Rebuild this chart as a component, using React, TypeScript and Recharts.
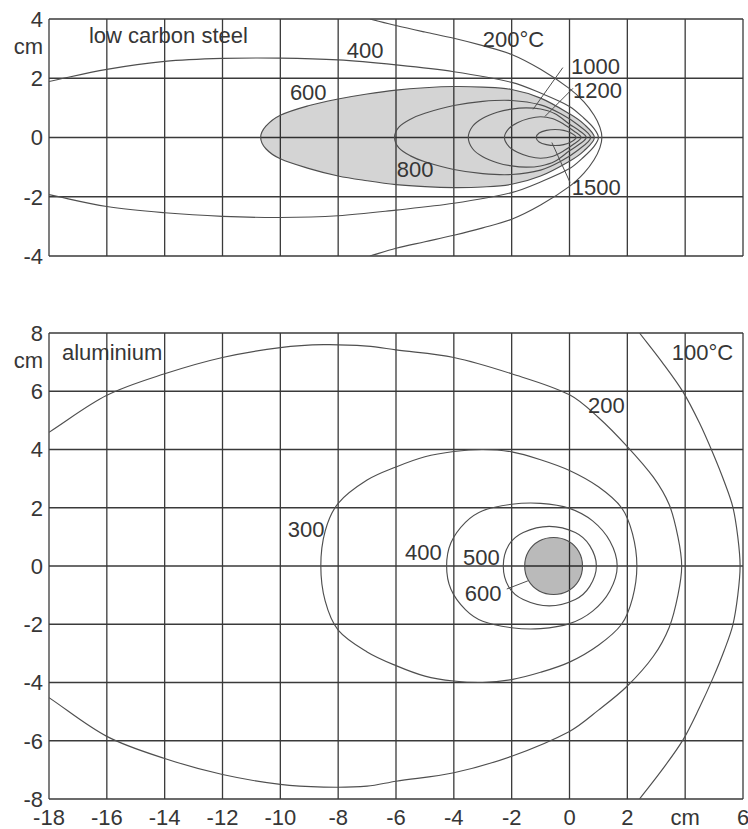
import {
  ComposedChart,
  Line,
  Area,
  Scatter,
  XAxis,
  YAxis,
  CartesianGrid,
} from 'recharts'

const ink = '#363636'
const gridStroke = '#3a3a3a'
const isoStroke = '#4f4f4f'
const fontFamily = '"Liberation Sans", Arial, Helvetica, sans-serif'
const fontSize = 22

// shared x stations (cm); the tick at 4 carries the unit
const xTicks = [-18, -16, -14, -12, -10, -8, -6, -4, -2, 0, 2, 4, 6]
const xUnitAt = 4

const steelYTicks = [-4, -2, 0, 2, 3, 4]
const steelYGrid = [-4, -2, 0, 2, 4]
const steelUnitAt = 3

const aluYTicks = [-8, -6, -4, -2, 0, 2, 4, 6, 7, 8]
const aluYGrid = [-8, -6, -4, -2, 0, 2, 4, 6, 8]
const aluUnitAt = 7

// low carbon steel isotherms: x stations, upper branch, lower branch (cm)
const steel200X = [-6.9, -6, -5, -4, -3, -2, -1, 0, 0.5, 0.85, 1.05, 1.12]
const steel200Top = [4.0, 3.78, 3.56, 3.35, 3.1, 2.8, 2.3, 1.65, 1.2, 0.75, 0.35, 0]
const steel200Bot = [-4.0, -3.74, -3.52, -3.3, -3.05, -2.76, -2.28, -1.65, -1.2, -0.75, -0.35, 0]

const steel400X = [-18, -16, -14, -12, -10, -8, -6, -4, -2, -1, 0, 0.5, 0.85, 1.0]
const steel400Top = [1.89, 2.3, 2.57, 2.67, 2.68, 2.62, 2.45, 2.22, 1.86, 1.5, 1.05, 0.65, 0.3, 0]
const steel400Bot = [-1.93, -2.33, -2.54, -2.66, -2.7, -2.64, -2.45, -2.22, -1.86, -1.5, -1.05, -0.65, -0.3, 0]

const steel600X = [-10.68, -10.5, -10, -9, -8, -7, -6, -5, -4, -3, -2, -1, 0, 0.5, 0.86]
const steel600Top = [0, 0.38, 0.75, 1.08, 1.3, 1.47, 1.6, 1.68, 1.72, 1.7, 1.62, 1.33, 0.8, 0.45, 0]
const steel600Bot = [0, -0.38, -0.72, -1.05, -1.3, -1.46, -1.59, -1.66, -1.69, -1.67, -1.58, -1.3, -0.8, -0.45, 0]

const steel800X = [-6.05, -5.9, -5.5, -5, -4, -3, -2, -1, -0.3, 0.3, 0.73]
const steel800Top = [0, 0.35, 0.62, 0.82, 1.08, 1.22, 1.25, 1.1, 0.8, 0.42, 0]
const steel800Bot = [0, -0.35, -0.62, -0.82, -1.08, -1.22, -1.25, -1.1, -0.8, -0.42, 0]

const steel1000X = [-3.5, -3.35, -3, -2.5, -2, -1.5, -1, -0.5, 0, 0.35, 0.58]
const steel1000Top = [0, 0.38, 0.65, 0.85, 0.96, 1.0, 0.96, 0.8, 0.45, 0.22, 0]
const steel1000Bot = [0, -0.38, -0.65, -0.85, -0.96, -1.0, -0.96, -0.8, -0.45, -0.22, 0]

const steel1200X = [-2.25, -2.1, -1.8, -1.4, -1, -0.6, -0.2, 0.15, 0.4]
const steel1200Top = [0, 0.3, 0.5, 0.64, 0.7, 0.64, 0.45, 0.22, 0]
const steel1200Bot = [0, -0.3, -0.5, -0.64, -0.7, -0.64, -0.45, -0.22, 0]

const steel1500X = [-1.15, -1.05, -0.8, -0.5, -0.2, 0.05, 0.23]
const steel1500Top = [0, 0.15, 0.24, 0.27, 0.24, 0.15, 0]
const steel1500Bot = [0, -0.15, -0.24, -0.27, -0.24, -0.15, 0]

// aluminium isotherms
const alu100X = [2.42, 3.2, 3.93, 4.5, 4.96, 5.35, 5.65, 5.82, 5.9]
const alu100Top = [8, 7, 5.97, 4.9, 3.87, 2.9, 2.02, 1.0, 0]
const alu100Bot = [-8, -7, -5.96, -4.85, -3.85, -2.9, -2.02, -1.0, 0]

const alu200X = [-18, -16, -14, -12, -10, -8.5, -7, -6, -4, -2, 0, 1, 2, 2.9, 3.45, 3.75, 3.88]
const alu200Top = [4.59, 5.86, 6.6, 7.16, 7.5, 7.6, 7.55, 7.42, 7.16, 6.6, 5.88, 5.1, 4.1, 3.05, 2.1, 1.0, 0]
const alu200Bot = [-4.52, -5.85, -6.61, -7.16, -7.5, -7.59, -7.56, -7.39, -7.1, -6.53, -5.68, -4.95, -4.12, -3.1, -2.1, -1.0, 0]

const alu300X = [-8.6, -8.45, -8, -7, -6, -5, -4, -3, -2, -1, 0, 1, 1.8, 2.18, 2.33]
const alu300Top = [0, 1.2, 2.15, 2.95, 3.4, 3.75, 3.93, 4.0, 3.92, 3.65, 3.28, 2.72, 2.0, 1.1, 0]
const alu300Bot = [0, -1.2, -2.2, -2.95, -3.42, -3.78, -3.95, -4.0, -3.9, -3.65, -3.3, -2.72, -2.0, -1.1, 0]

const alu400X = [-4.25, -4.1, -3.6, -3, -2, -1, 0, 0.8, 1.4, 1.65]
const alu400Top = [0, 0.8, 1.5, 1.9, 2.12, 2.15, 1.98, 1.55, 0.85, 0]
const alu400Bot = [0, -0.8, -1.5, -1.9, -2.12, -2.15, -1.98, -1.55, -0.85, 0]

const alu500X = [-2.29, -2.1, -1.6, -0.7, 0.2, 0.7, 0.93]
const alu500Top = [0, 0.72, 1.15, 1.36, 1.15, 0.7, 0]
const alu500Bot = [0, -0.72, -1.15, -1.37, -1.15, -0.7, 0]

const alu600X = [-1.55, -1.42, -1.05, -0.55, -0.05, 0.32, 0.45]
const alu600Top = [0, 0.5, 0.86, 0.98, 0.86, 0.5, 0]
const alu600Bot = [0, -0.5, -0.86, -0.98, -0.86, -0.5, 0]

// text placed at its left baseline, in cm
const steelTags = [
  { x: -16.62, y: 3.18, label: 'low carbon steel' },
  { x: -7.7, y: 2.7, label: '400' },
  { x: -9.67, y: 1.25, label: '600' },
  { x: -3.0, y: 3.04, label: '200°C' },
  { x: 0.05, y: 2.13, label: '1000' },
  { x: 0.12, y: 1.35, label: '1200' },
  { x: -5.97, y: -1.35, label: '800' },
  { x: 0.08, y: -1.93, label: '1500' },
]
const aluTags = [
  { x: -17.55, y: 7.09, label: 'aluminium' },
  { x: 3.54, y: 7.09, label: '100°C' },
  { x: 0.64, y: 5.27, label: '200' },
  { x: -9.74, y: 0.99, label: '300' },
  { x: -5.69, y: 0.21, label: '400' },
  { x: -3.68, y: 0.03, label: '500' },
  { x: -3.62, y: -1.2, label: '600' },
]

const steelLeaders = [
  [{ x: -1.26, y: 0.95 }, { x: -0.23, y: 2.36 }],
  [{ x: -0.85, y: 0.71 }, { x: 0.12, y: 1.66 }],
  [{ x: -0.61, y: -0.17 }, { x: 0.02, y: -1.52 }],
]
const aluLeaders = [[{ x: -2.17, y: -0.79 }, { x: -1.44, y: -0.51 }]]

type Pt = { x: number; y: number }

// walk the upper branch left to right, then the lower branch back
function outline(xs: number[], top: number[], bot: number[]): Pt[] {
  const upper = xs.map((x, i) => ({ x, y: top[i] }))
  const lower = xs.map((x, i) => ({ x, y: bot[i] })).reverse().slice(1)
  return [...upper, ...lower]
}

function band(xs: number[], top: number[], bot: number[]) {
  return xs.map((x, i) => ({ x, y: [bot[i], top[i]] }))
}

type XY = [number, number]
const gap = (a: XY, b: XY) => Math.hypot(a[0] - b[0], a[1] - b[1])

// chord-length Catmull-Rom through the points, closed when the ends meet
function traceSmooth(ctx: any, raw: XY[], closedHint: boolean) {
  const pts: XY[] = []
  raw.forEach((p) => {
    if (!pts.length || gap(p, pts[pts.length - 1]) > 0.01) pts.push(p)
  })
  if (pts.length < 2) return
  let closed = closedHint
  if (pts.length > 2 && gap(pts[0], pts[pts.length - 1]) < 0.5) {
    pts.pop()
    closed = true
  }
  const n = pts.length
  const at = (i: number) =>
    closed ? pts[((i % n) + n) % n] : pts[Math.min(Math.max(i, 0), n - 1)]
  const tangent = (i: number): XY => {
    const a = at(i - 1)
    const b = at(i)
    const c = at(i + 1)
    const s = gap(a, b) + gap(b, c) || 1
    return [(c[0] - a[0]) / s, (c[1] - a[1]) / s]
  }
  ctx.moveTo(pts[0][0], pts[0][1])
  const segs = closed ? n : n - 1
  for (let i = 0; i < segs; i++) {
    const p = at(i)
    const q = at(i + 1)
    const l = gap(p, q) / 3
    const t0 = tangent(i)
    const t1 = tangent(i + 1)
    ctx.bezierCurveTo(
      p[0] + t0[0] * l,
      p[1] + t0[1] * l,
      q[0] - t1[0] * l,
      q[1] - t1[1] * l,
      q[0],
      q[1],
    )
  }
  if (closed) ctx.closePath()
}

function smoothCurve(ctx: any) {
  let inArea = false
  let parts: XY[][] = []
  let cur: XY[] = []
  return {
    areaStart() {
      inArea = true
      parts = []
    },
    areaEnd() {
      traceSmooth(ctx, parts.flat() as XY[], true)
      inArea = false
    },
    lineStart() {
      cur = []
    },
    lineEnd() {
      if (inArea) parts.push(cur)
      else traceSmooth(ctx, cur, false)
    },
    point(x: number, y: number) {
      cur.push([+x, +y])
    },
  }
}

function TagText(props: any) {
  const { cx, cy, payload } = props
  return (
    <text x={cx} y={cy} fill={ink} fontSize={fontSize} fontFamily={fontFamily}>
      {payload.label}
    </text>
  )
}

function YTick({ x, y, payload, unitAt }: any) {
  const unit = payload.value === unitAt
  return (
    <text
      x={x}
      y={y}
      dy={unit ? '0.26em' : '0.355em'}
      textAnchor="end"
      fill={ink}
      fontSize={fontSize}
      fontFamily={fontFamily}
    >
      {unit ? 'cm' : payload.value}
    </text>
  )
}

// keeps the x ticks (and so the vertical grid) without drawing labels
const NoTick = () => <g />

type PanelProps = {
  height: number
  top: number
  yDomain: [number, number]
  yTicks: number[]
  yGrid: number[]
  unitAt: number
  showX?: boolean
  lines: Pt[][]
  fill: { x: number; y: number[] }[]
  fillOpacity: number
  leaders: Pt[][]
  tags: { x: number; y: number; label: string }[]
}

function IsoPanel(p: PanelProps) {
  return (
    <ComposedChart
      width={748}
      height={p.height}
      margin={{ top: p.top, right: 5, bottom: p.showX ? 0 : 13, left: 0 }}
    >
      <CartesianGrid
        stroke={gridStroke}
        strokeWidth={1.3}
        horizontalValues={p.yGrid}
        verticalValues={xTicks}
      />
      <XAxis
        type="number"
        dataKey="x"
        domain={[-18, 6]}
        allowDataOverflow
        ticks={xTicks}
        interval={0}
        height={p.showX ? 30 : 1}
        axisLine={false}
        tickLine={false}
        tickSize={0}
        tickMargin={10}
        tick={p.showX ? { fill: ink, fontSize, fontFamily } : NoTick}
        tickFormatter={(v) => (v === xUnitAt ? 'cm' : String(v))}
      />
      <YAxis
        type="number"
        dataKey="y"
        domain={p.yDomain}
        allowDataOverflow
        ticks={p.yTicks}
        interval={0}
        width={49}
        axisLine={false}
        tickLine={false}
        tickSize={0}
        tickMargin={6}
        tick={<YTick unitAt={p.unitAt} />}
      />
      <Area
        data={p.fill}
        dataKey="y"
        type={smoothCurve as any}
        stroke="none"
        fill="#000"
        fillOpacity={p.fillOpacity}
        dot={false}
        activeDot={false}
        isAnimationActive={false}
      />
      {p.lines.map((pts, i) => (
        <Line
          key={`iso-${i}`}
          data={pts}
          dataKey="y"
          type={smoothCurve as any}
          stroke={isoStroke}
          strokeWidth={1.15}
          dot={false}
          activeDot={false}
          isAnimationActive={false}
        />
      ))}
      {p.leaders.map((pts, i) => (
        <Line
          key={`lead-${i}`}
          data={pts}
          dataKey="y"
          type="linear"
          stroke={isoStroke}
          strokeWidth={1}
          dot={false}
          activeDot={false}
          isAnimationActive={false}
        />
      ))}
      <Scatter data={p.tags} dataKey="y" shape={TagText} isAnimationActive={false} />
    </ComposedChart>
  )
}

export default function App() {
  const steelLines = [
    outline(steel200X, steel200Top, steel200Bot),
    outline(steel400X, steel400Top, steel400Bot),
    outline(steel600X, steel600Top, steel600Bot),
    outline(steel800X, steel800Top, steel800Bot),
    outline(steel1000X, steel1000Top, steel1000Bot),
    outline(steel1200X, steel1200Top, steel1200Bot),
    outline(steel1500X, steel1500Top, steel1500Bot),
  ]
  const aluLines = [
    outline(alu100X, alu100Top, alu100Bot),
    outline(alu200X, alu200Top, alu200Bot),
    outline(alu300X, alu300Top, alu300Bot),
    outline(alu400X, alu400Top, alu400Bot),
    outline(alu500X, alu500Top, alu500Bot),
    outline(alu600X, alu600Top, alu600Bot),
  ]
  return (
    <div
      style={{
        position: 'absolute',
        left: 0,
        top: 0,
        width: 748,
        height: 829,
        background: '#fff',
      }}
    >
      <IsoPanel
        height={270}
        top={19}
        yDomain={[-4, 4]}
        yTicks={steelYTicks}
        yGrid={steelYGrid}
        unitAt={steelUnitAt}
        lines={steelLines}
        fill={band(steel600X, steel600Top, steel600Bot)}
        fillOpacity={0.17}
        leaders={steelLeaders}
        tags={steelTags}
      />
      <div style={{ position: 'absolute', left: 0, top: 300 }}>
        <IsoPanel
          height={529}
          top={33}
          yDomain={[-8, 8]}
          yTicks={aluYTicks}
          yGrid={aluYGrid}
          unitAt={aluUnitAt}
          showX
          lines={aluLines}
          fill={band(alu600X, alu600Top, alu600Bot)}
          fillOpacity={0.27}
          leaders={aluLeaders}
          tags={aluTags}
        />
      </div>
    </div>
  )
}
